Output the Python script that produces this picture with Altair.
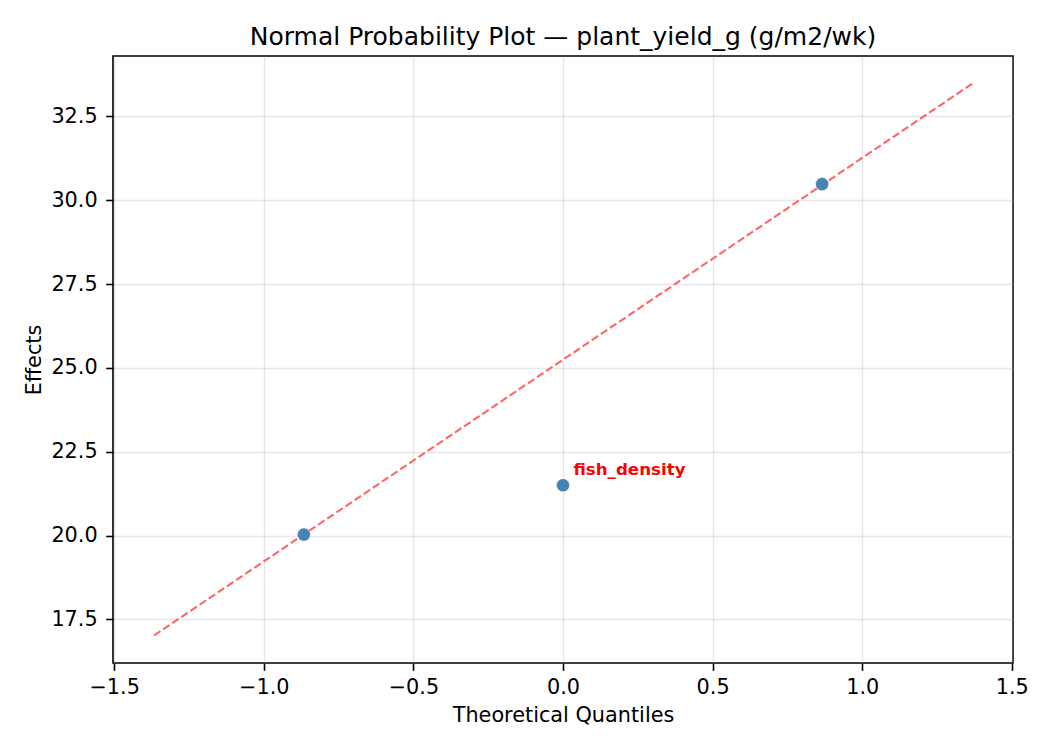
import altair as alt
import pandas as pd

# --- data ---
quantiles = [-0.866, 0.0, 0.866]
effects = [20.03, 21.50, 30.48]
factor_names = ["", "fish_density", ""]
line_x = [-1.367, 1.367]
line_y = [17.02, 33.47]
x_ticks = [-1.5, -1.0, -0.5, 0.0, 0.5, 1.0, 1.5]
y_ticks = [17.5, 20.0, 22.5, 25.0, 27.5, 30.0, 32.5]
x_domain = [-1.504, 1.504]
y_domain = [16.20, 34.30]

pts = pd.DataFrame({"q": quantiles, "e": effects, "name": factor_names})
lbl = pts[pts["name"] != ""]
ref = pd.DataFrame({"q": line_x, "e": line_y})

FONT = "DejaVu Sans"

xs = alt.Scale(domain=x_domain, nice=False, zero=False)
ys = alt.Scale(domain=y_domain, nice=False, zero=False)

x_enc = alt.X(
    "q:Q", scale=xs,
    axis=alt.Axis(values=x_ticks, format=".1f", title="Theoretical Quantiles",
                  labelBaseline="alphabetic", labelPadding=23.5,
                  titleBaseline="alphabetic", titleY=58.7),
)
y_enc = alt.Y(
    "e:Q", scale=ys,
    axis=alt.Axis(values=y_ticks, format=".1f", title="Effects",
                  labelPadding=8.5, titleBaseline="alphabetic",
                  titleX=-72.3, titleY=303.5, titleAngle=270),
)

line = alt.Chart(ref).mark_line(
    color="#ff6666", strokeWidth=2.1, strokeDash=[7.7, 3.3], clip=True
).encode(x=x_enc, y=y_enc)

points = alt.Chart(pts).mark_circle(
    size=170, color="#4682b4", opacity=1, stroke="white", strokeWidth=0.4
).encode(x=alt.X("q:Q", scale=xs), y=alt.Y("e:Q", scale=ys))

labels = alt.Chart(lbl).mark_text(
    align="left", baseline="alphabetic", dx=10.4, dy=-10.4,
    font=FONT, fontSize=16.7, fontWeight="bold", color="red"
).encode(x=alt.X("q:Q", scale=xs), y=alt.Y("e:Q", scale=ys), text="name:N")

chart = alt.layer(line, points, labels).properties(
    width=900,
    height=607,
    autosize=alt.AutoSizeParams(type="none"),
    padding={"left": 105, "top": 48, "right": 29, "bottom": 79},
    background="white",
    title=alt.TitleParams(
        "Normal Probability Plot \u2014 plant_yield_g (g/m2/wk)",
        font=FONT, fontSize=25, fontWeight="normal", color="black",
        anchor="middle", offset=13, dy=27, baseline="alphabetic",
    ),
).configure_view(
    stroke="black", strokeWidth=1.6
).configure_axis(
    domain=False,
    grid=True, gridColor="#b0b0b0", gridOpacity=0.3, gridWidth=1.4,
    ticks=True, tickColor="black", tickWidth=1.6, tickSize=7.3,
    labelFont=FONT, labelFontSize=20.8, labelColor="black",
    titleFont=FONT, titleFontSize=20.8, titleFontWeight="normal", titleColor="black",
)

chart.save("out.html", embed_options={"renderer": "svg", "actions": False})
